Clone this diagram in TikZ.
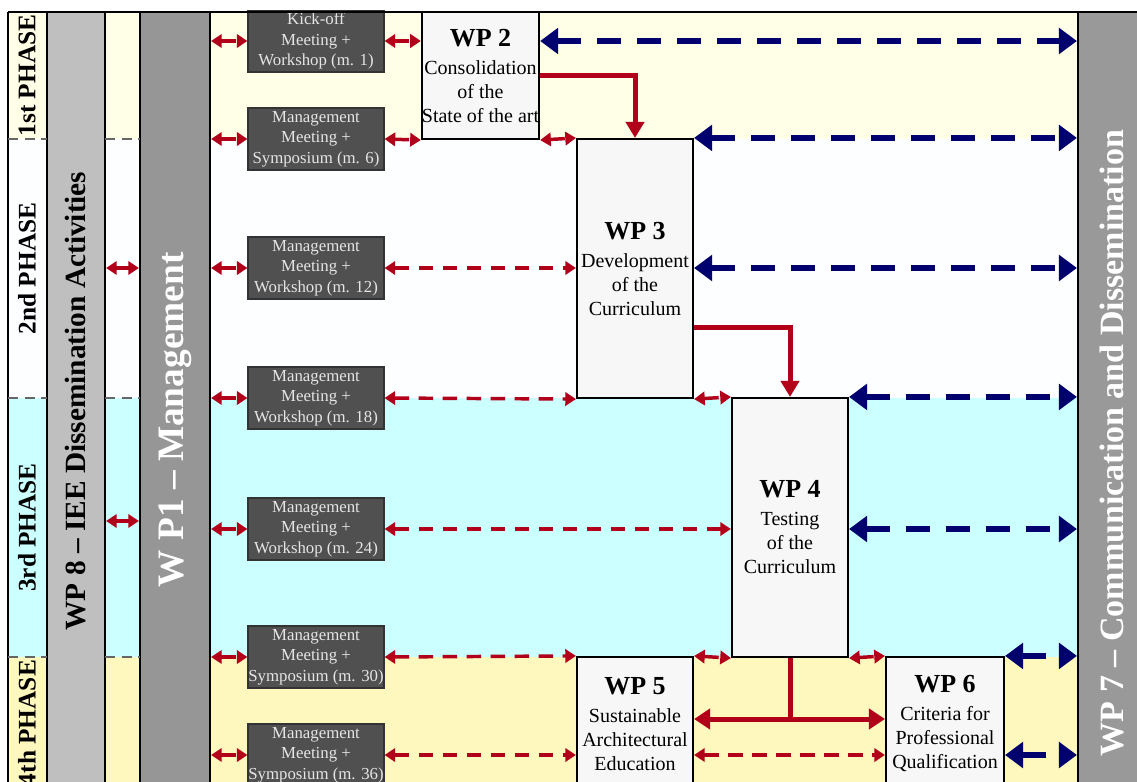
\documentclass[tikz,border=0pt]{standalone}
\usepackage{fontspec}
\setmainfont{Liberation Serif}
\usetikzlibrary{arrows.meta}

\definecolor{wpred}{RGB}{178,0,26}
\definecolor{wpblue}{RGB}{0,0,110}
\definecolor{phaseone}{RGB}{255,254,230}
\definecolor{phasetwo}{RGB}{252,254,255}
\definecolor{phasethree}{RGB}{204,255,255}
\definecolor{phasefour}{RGB}{255,248,190}
\definecolor{mtggray}{RGB}{80,80,80}

\begin{document}
\begin{tikzpicture}[
		x=0.75pt, y=-0.75pt,
		mtg/.style={rectangle, draw=black!80, line width=0.8pt, fill=mtggray, text=white!90!black, align=center, inner sep=0pt, minimum width=102pt, minimum height=46.5pt, font=\fontsize{12.6}{15.5}\selectfont},
		wp/.style={rectangle, draw=black, line width=1.6pt, fill=black!3, align=center, inner sep=0pt, font=\fontsize{15}{18}\selectfont},
		col/.style={rectangle, draw=black, line width=1.6pt, inner sep=0pt, minimum height=600pt},
		coltext/.style={rotate=90, font=\bfseries\fontsize{25.5}{28}\selectfont},
		phase/.style={rotate=90, font=\bfseries\fontsize{19}{22}\selectfont},
		phasesep/.style={draw=black!60, line width=1.5pt, dash pattern=on 7.5pt off 5pt},
		meet/.style={draw=wpred, line width=2.6pt, dash pattern=on 11pt off 7pt, {Triangle[length=8pt,width=10pt]}-{Triangle[length=8pt,width=10pt]}},
		comm/.style={draw=wpblue, line width=4.5pt, dash pattern=on 18pt off 12pt, {Triangle[length=13.5pt,width=19pt]}-{Triangle[length=13.5pt,width=19pt]}},
		flow/.style={draw=wpred, line width=3.75pt, -{Triangle[length=12pt,width=13.5pt]}}
	]
  \useasboundingbox (0,0) rectangle (1137,781);
  \begin{scope}
  \clip (0,11) rectangle (1137,781);

  % phase bands
  \fill[phaseone] (8,12) rectangle (1078,139);
  \fill[phasetwo] (8,139) rectangle (1078,398);
  \fill[phasethree] (8,398) rectangle (1078,657);
  \fill[phasefour] (8,657) rectangle (1078,820);

  % side columns
  \node (wp8) [col, fill=black!25, minimum width=43.5pt] at (76,412) {};
  \node (wp1) [col, fill=black!41, minimum width=52.5pt] at (175,412) {};
  \node (wp7) [col, fill=black!40, minimum width=54pt] at (1114,412) {};
  \draw[line width=1.6pt] (8,12) -- (8,820);

  \draw[phasesep] (8,139) -- (47,139);
  \draw[phasesep] (8,398) -- (47,398);
  \draw[phasesep] (8,657) -- (47,657);
  \draw[phasesep] (105,139) -- (140,139);
  \draw[phasesep] (105,398) -- (140,398);
  \draw[phasesep] (105,657) -- (140,657);

  \node (ph1) [phase] at (27,75.5) {1st PHASE};
  \node (ph2) [phase] at (27,268.5) {2nd PHASE};
  \node (ph3) [phase] at (27,527.5) {3rd PHASE};
  \node (ph4) [phase] at (27,723) {4th PHASE};

  \node [coltext, font=\bfseries\fontsize{22}{26}\selectfont] at (76,401) {WP 8 -- IEE Dissemination Activities};
  \node [coltext, text=white, font=\bfseries\fontsize{28}{30}\selectfont] at (175,420) {W P1 -- Management};
  \node [coltext, text=white] at (1112,443) {WP 7 -- Communication and Dissemination};

  % meetings
  \node (m1) [mtg] at (316,41) {Kick-off\\Meeting +\\Workshop (m. 1)};
  \node (m2) [mtg] at (316,139) {Management\\Meeting +\\Symposium (m. 6)};
  \node (m3) [mtg] at (316,268) {Management\\Meeting +\\Workshop (m. 12)};
  \node (m4) [mtg] at (316,398) {Management\\Meeting +\\Workshop (m. 18)};
  \node (m5) [mtg] at (316,529) {Management\\Meeting +\\Workshop (m. 24)};
  \node (m6) [mtg] at (316,657) {Management\\Meeting +\\Symposium (m. 30)};
  \node (m7) [mtg] at (316,755) {Management\\Meeting +\\Symposium (m. 36)};

  % work packages
  \node (wp2) [wp, minimum width=87.75pt, minimum height=95.25pt] at (480.5,75.5)
    {{\bfseries\fontsize{19.5}{22}\selectfont WP 2}\\[3pt]Consolidation\\of the\\State of the art};
  \node (wp3) [wp, minimum width=87pt, minimum height=194.25pt] at (635,268.5)
    {{\bfseries\fontsize{19.5}{22}\selectfont WP 3}\\[3pt]Development\\of the\\Curriculum};
  \node (wp4) [wp, minimum width=87pt, minimum height=194.25pt] at (790,527.5)
    {{\bfseries\fontsize{19.5}{22}\selectfont WP 4}\\[3pt]Testing\\of the\\Curriculum};
  \node (wp5) [wp, minimum width=87pt, minimum height=100.5pt] at (635,724)
    {{\bfseries\fontsize{19.5}{22}\selectfont WP 5}\\[3pt]Sustainable\\Architectural\\Education};
  \node (wp6) [wp, minimum width=88.5pt, minimum height=100.5pt] at (945,724)
    {{\bfseries\fontsize{19.5}{22}\selectfont WP 6}\\[3pt]Criteria for\\Professional\\Qualification};

  % management links
  \draw[meet] (m1.west -| wp1.east) -- (m1.west);
  \draw[meet] (m2.west -| wp1.east) -- (m2.west);
  \draw[meet] (m3.west -| wp1.east) -- (m3.west);
  \draw[meet] (m4.west -| wp1.east) -- (m4.west);
  \draw[meet] (m5.west -| wp1.east) -- (m5.west);
  \draw[meet] (m6.west -| wp1.east) -- (m6.west);
  \draw[meet] (m7.west -| wp1.east) -- (m7.west);
  \coordinate (d1) at (122,268);
  \coordinate (d2) at (122,521);
  \draw[meet, solid] (d1 -| wp8.east) -- (d1 -| wp1.west);
  \draw[meet, solid] (d2 -| wp8.east) -- (d2 -| wp1.west);

  \draw[meet] (m1.east) -- (m1.east -| wp2.west);
  \draw[meet] (m2.east) -- (wp2.south west);
  \draw[meet] (wp2.south east) -- (wp3.north west);
  \draw[meet] (m3.east) -- (m3.east -| wp3.west);
  \draw[meet] (m4.east) -- (wp3.south west);
  \draw[meet] (wp3.south east) -- (wp4.north west);
  \draw[meet] (m5.east) -- (m5.east -| wp4.west);
  \draw[meet] (m6.east) -- (wp5.north west);
  \draw[meet] (wp5.north east) -- (wp4.south west);
  \draw[meet] (wp4.south east) -- (wp6.north west);
  \draw[meet] (m7.east) -- (m7.east -| wp5.west);
  \draw[meet] (m7.east -| wp5.east) -- (m7.east -| wp6.west);

  % communication links
  \draw[comm] (m1.east -| wp2.east) -- (m1.east -| wp7.west);
  \draw[comm] (wp3.north east) -- (wp3.north east -| wp7.west);
  \draw[comm] (m3.east -| wp3.east) -- (m3.east -| wp7.west);
  \draw[comm] (wp4.north east) -- (wp4.north east -| wp7.west);
  \draw[comm] (m5.east -| wp4.east) -- (m5.east -| wp7.west);
  \draw[comm] (wp6.north east) -- (wp6.north east -| wp7.west);
  \draw[comm] (m7.east -| wp6.east) -- (m7.east -| wp7.west);

  % results flow
  \draw[flow] (wp2.east) -| (wp3.north);
  \draw[flow] ([yshift=-43.9pt]wp3.east) -| (wp4.north);
  \coordinate (fork) at (790,719);
  \draw[wpred, line width=3.75pt] (wp4.south) -- (fork);
  \draw[flow, {Triangle[length=12pt,width=15pt]}-{Triangle[length=12pt,width=15pt]}] (fork -| wp5.east) -- (fork -| wp6.west);
  \end{scope}
  \draw[line width=1.6pt] (8,12) -- (1137,12);
\end{tikzpicture}
\end{document}
